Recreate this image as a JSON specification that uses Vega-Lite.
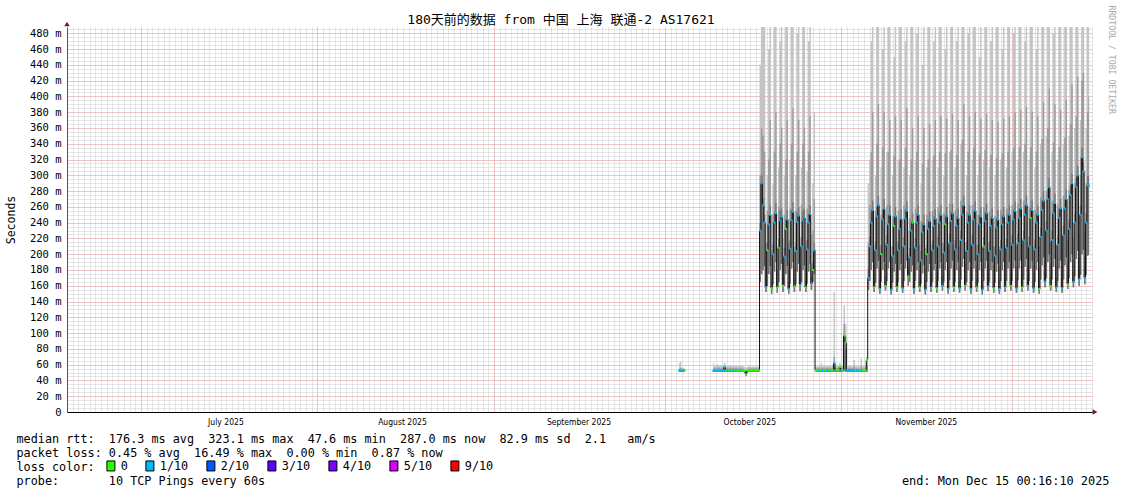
{
"$schema":"https://vega.github.io/schema/vega-lite/v6.json",
"width":1025,"height":385,
"autosize":{"type":"none"},
"padding":{"left":67,"top":27,"right":29,"bottom":82},
"background":"white",
"config":{"view":{"stroke":null},"axis":{"labelFont":"DejaVu Sans Mono","titleFont":"DejaVu Sans Mono","titleFontWeight":"normal","labelColor":"#000","titleColor":"#000"}},
"data":{"values":[
{"t":"2025-10-03T12:00Z","s":1,"lo":51,"dk":52,"mi":55,"hi":62,"md":52.5,"l":"1/10"},
{"t":"2025-10-03T18:00Z","s":1,"lo":51,"dk":52,"mi":56,"hi":64,"md":52.5,"l":"1/10"},
{"t":"2025-10-04T00:00Z","s":1,"lo":51,"dk":52,"mi":54,"hi":56,"md":52.8,"l":"1/10"},
{"t":"2025-10-04T06:00Z","s":1,"lo":51,"dk":52,"mi":54,"hi":56,"md":53,"l":"1/10"},
{"t":"2025-10-04T12:00Z","s":1,"lo":51,"dk":52,"mi":54,"hi":55,"md":53,"l":"0"},
{"t":"2025-10-09T12:00Z","s":2,"lo":51,"dk":52,"mi":56,"hi":63,"md":52.5,"l":"1/10"},
{"t":"2025-10-09T18:00Z","s":2,"lo":51,"dk":52,"mi":56,"hi":59,"md":52.5,"l":"1/10"},
{"t":"2025-10-10T00:00Z","s":2,"lo":51,"dk":52,"mi":55,"hi":58,"md":52.5,"l":"1/10"},
{"t":"2025-10-10T06:00Z","s":2,"lo":51,"dk":52,"mi":56,"hi":61,"md":52.5,"l":"1/10"},
{"t":"2025-10-10T12:00Z","s":2,"lo":51,"dk":52,"mi":56,"hi":59,"md":52.5,"l":"1/10"},
{"t":"2025-10-10T18:00Z","s":2,"lo":51,"dk":52,"mi":55,"hi":58,"md":52.5,"l":"1/10"},
{"t":"2025-10-11T00:00Z","s":2,"lo":51,"dk":52,"mi":56,"hi":59,"md":53,"l":"1/10"},
{"t":"2025-10-11T06:00Z","s":2,"lo":51,"dk":52,"mi":56,"hi":60,"md":53,"l":"1/10"},
{"t":"2025-10-11T12:00Z","s":2,"lo":51,"dk":54,"mi":58,"hi":62,"md":57,"l":"1/10"},
{"t":"2025-10-11T18:00Z","s":2,"lo":51,"dk":52,"mi":55,"hi":58,"md":53,"l":"0"},
{"t":"2025-10-12T00:00Z","s":2,"lo":51,"dk":52,"mi":56,"hi":59,"md":53,"l":"1/10"},
{"t":"2025-10-12T06:00Z","s":2,"lo":51,"dk":52,"mi":55,"hi":58,"md":53,"l":"0"},
{"t":"2025-10-12T12:00Z","s":2,"lo":51,"dk":52,"mi":56,"hi":59,"md":53,"l":"1/10"},
{"t":"2025-10-12T18:00Z","s":2,"lo":51,"dk":52,"mi":55,"hi":58,"md":53,"l":"0"},
{"t":"2025-10-13T00:00Z","s":2,"lo":51,"dk":52,"mi":56,"hi":59,"md":53,"l":"1/10"},
{"t":"2025-10-13T06:00Z","s":2,"lo":51,"dk":52,"mi":55,"hi":58,"md":53,"l":"0"},
{"t":"2025-10-13T12:00Z","s":2,"lo":51,"dk":52,"mi":56,"hi":59,"md":53,"l":"1/10"},
{"t":"2025-10-13T18:00Z","s":2,"lo":51,"dk":52,"mi":55,"hi":58,"md":53,"l":"0"},
{"t":"2025-10-14T00:00Z","s":2,"lo":51,"dk":52,"mi":55,"hi":58,"md":53,"l":"0"},
{"t":"2025-10-14T06:00Z","s":2,"lo":51,"dk":52,"mi":56,"hi":59,"md":53,"l":"1/10"},
{"t":"2025-10-14T12:00Z","s":2,"lo":51,"dk":52,"mi":55,"hi":58,"md":53,"l":"0"},
{"t":"2025-10-14T18:00Z","s":2,"lo":51,"dk":52,"mi":55,"hi":58,"md":53,"l":"0"},
{"t":"2025-10-15T00:00Z","s":2,"lo":50,"dk":51,"mi":54,"hi":57,"md":52,"l":"0"},
{"t":"2025-10-15T06:00Z","s":2,"lo":46,"dk":47,"mi":51,"hi":56,"md":47.6,"l":"0"},
{"t":"2025-10-15T12:00Z","s":2,"lo":50,"dk":51,"mi":54,"hi":57,"md":52.5,"l":"0"},
{"t":"2025-10-15T18:00Z","s":2,"lo":51,"dk":52,"mi":55,"hi":58,"md":53,"l":"0"},
{"t":"2025-10-16T00:00Z","s":2,"lo":51,"dk":52,"mi":55,"hi":58,"md":53,"l":"0"},
{"t":"2025-10-16T06:00Z","s":2,"lo":51,"dk":52,"mi":55,"hi":57,"md":53,"l":"0"},
{"t":"2025-10-16T12:00Z","s":2,"lo":51,"dk":52,"mi":55,"hi":58,"md":53,"l":"0"},
{"t":"2025-10-16T18:00Z","s":2,"lo":51,"dk":52,"mi":55,"hi":57,"md":53,"l":"0"},
{"t":"2025-10-17T00:00Z","s":2,"lo":51,"dk":52,"mi":55,"hi":58,"md":53,"l":"0"},
{"t":"2025-10-17T06:00Z","s":2,"lo":51,"dk":52,"mi":55,"hi":57,"md":53,"l":"0"},
{"t":"2025-10-17T12:00Z","s":2,"lo":51,"dk":52,"mi":55,"hi":58,"md":53,"l":"0"},
{"t":"2025-10-17T18:00Z","s":2,"lo":165,"dk":240,"mi":300,"hi":440,"md":230,"l":"1/10"},
{"t":"2025-10-18T00:00Z","s":2,"lo":175,"dk":300,"mi":360,"hi":488,"md":290,"l":"1/10"},
{"t":"2025-10-18T06:00Z","s":2,"lo":180,"dk":272,"mi":350,"hi":488,"md":262,"l":"1/10"},
{"t":"2025-10-18T12:00Z","s":2,"lo":185,"dk":250,"mi":330,"hi":488,"md":240,"l":"1/10"},
{"t":"2025-10-18T18:00Z","s":2,"lo":152,"dk":170,"mi":185,"hi":215,"md":158,"l":"1/10"},
{"t":"2025-10-19T00:00Z","s":2,"lo":160,"dk":215,"mi":255,"hi":300,"md":205,"l":"0"},
{"t":"2025-10-19T06:00Z","s":2,"lo":175,"dk":250,"mi":320,"hi":460,"md":238,"l":"1/10"},
{"t":"2025-10-19T12:00Z","s":2,"lo":185,"dk":262,"mi":370,"hi":488,"md":250,"l":"1/10"},
{"t":"2025-10-19T18:00Z","s":2,"lo":150,"dk":165,"mi":178,"hi":205,"md":157,"l":"0"},
{"t":"2025-10-20T00:00Z","s":2,"lo":162,"dk":212,"mi":250,"hi":290,"md":200,"l":"1/10"},
{"t":"2025-10-20T06:00Z","s":2,"lo":178,"dk":252,"mi":330,"hi":488,"md":240,"l":"1/10"},
{"t":"2025-10-20T12:00Z","s":2,"lo":190,"dk":265,"mi":380,"hi":488,"md":252,"l":"1/10"},
{"t":"2025-10-20T18:00Z","s":2,"lo":151,"dk":166,"mi":180,"hi":210,"md":158,"l":"0"},
{"t":"2025-10-21T00:00Z","s":2,"lo":165,"dk":220,"mi":260,"hi":310,"md":208,"l":"0"},
{"t":"2025-10-21T06:00Z","s":2,"lo":180,"dk":255,"mi":340,"hi":470,"md":243,"l":"1/10"},
{"t":"2025-10-21T12:00Z","s":2,"lo":188,"dk":258,"mi":360,"hi":488,"md":247,"l":"1/10"},
{"t":"2025-10-21T18:00Z","s":2,"lo":152,"dk":170,"mi":185,"hi":220,"md":160,"l":"0"},
{"t":"2025-10-22T00:00Z","s":2,"lo":160,"dk":208,"mi":250,"hi":300,"md":197,"l":"1/10"},
{"t":"2025-10-22T06:00Z","s":2,"lo":175,"dk":245,"mi":320,"hi":488,"md":232,"l":"0"},
{"t":"2025-10-22T12:00Z","s":2,"lo":185,"dk":256,"mi":370,"hi":488,"md":244,"l":"1/10"},
{"t":"2025-10-22T18:00Z","s":2,"lo":150,"dk":165,"mi":180,"hi":215,"md":156,"l":"1/10"},
{"t":"2025-10-23T00:00Z","s":2,"lo":163,"dk":218,"mi":258,"hi":320,"md":207,"l":"1/10"},
{"t":"2025-10-23T06:00Z","s":2,"lo":182,"dk":256,"mi":340,"hi":488,"md":243,"l":"1/10"},
{"t":"2025-10-23T12:00Z","s":2,"lo":190,"dk":266,"mi":385,"hi":488,"md":254,"l":"1/10"},
{"t":"2025-10-23T18:00Z","s":2,"lo":152,"dk":168,"mi":182,"hi":210,"md":159,"l":"0"},
{"t":"2025-10-24T00:00Z","s":2,"lo":162,"dk":215,"mi":255,"hi":300,"md":204,"l":"1/10"},
{"t":"2025-10-24T06:00Z","s":2,"lo":178,"dk":253,"mi":330,"hi":480,"md":241,"l":"1/10"},
{"t":"2025-10-24T12:00Z","s":2,"lo":188,"dk":260,"mi":370,"hi":488,"md":249,"l":"1/10"},
{"t":"2025-10-24T18:00Z","s":2,"lo":153,"dk":170,"mi":185,"hi":220,"md":161,"l":"1/10"},
{"t":"2025-10-25T00:00Z","s":2,"lo":165,"dk":222,"mi":262,"hi":310,"md":210,"l":"1/10"},
{"t":"2025-10-25T06:00Z","s":2,"lo":180,"dk":255,"mi":340,"hi":488,"md":243,"l":"1/10"},
{"t":"2025-10-25T12:00Z","s":2,"lo":186,"dk":258,"mi":360,"hi":488,"md":246,"l":"1/10"},
{"t":"2025-10-25T18:00Z","s":2,"lo":152,"dk":168,"mi":182,"hi":215,"md":158,"l":"0"},
{"t":"2025-10-26T00:00Z","s":2,"lo":163,"dk":218,"mi":258,"hi":305,"md":206,"l":"1/10"},
{"t":"2025-10-26T06:00Z","s":2,"lo":178,"dk":252,"mi":330,"hi":470,"md":240,"l":"1/10"},
{"t":"2025-10-26T12:00Z","s":2,"lo":188,"dk":262,"mi":375,"hi":488,"md":251,"l":"1/10"},
{"t":"2025-10-26T18:00Z","s":2,"lo":155,"dk":172,"mi":188,"hi":225,"md":163,"l":"1/10"},
{"t":"2025-10-27T00:00Z","s":2,"lo":165,"dk":190,"mi":230,"hi":290,"md":180,"l":"0"},
{"t":"2025-10-27T06:00Z","s":2,"lo":175,"dk":215,"mi":270,"hi":380,"md":205,"l":"1/10"},
{"t":"2025-10-27T12:00Z","s":2,"lo":51,"dk":52,"mi":55,"hi":58,"md":53,"l":"0"},
{"t":"2025-10-27T18:00Z","s":2,"lo":51,"dk":52,"mi":55,"hi":57,"md":53,"l":"0"},
{"t":"2025-10-28T00:00Z","s":2,"lo":51,"dk":52,"mi":56,"hi":59,"md":53,"l":"1/10"},
{"t":"2025-10-28T06:00Z","s":2,"lo":51,"dk":52,"mi":55,"hi":58,"md":53,"l":"0"},
{"t":"2025-10-28T12:00Z","s":2,"lo":51,"dk":52,"mi":56,"hi":62,"md":53,"l":"0"},
{"t":"2025-10-28T18:00Z","s":2,"lo":51,"dk":52,"mi":55,"hi":58,"md":53,"l":"1/10"},
{"t":"2025-10-29T00:00Z","s":2,"lo":51,"dk":52,"mi":56,"hi":59,"md":53,"l":"0"},
{"t":"2025-10-29T06:00Z","s":2,"lo":51,"dk":52,"mi":55,"hi":58,"md":53,"l":"0"},
{"t":"2025-10-29T12:00Z","s":2,"lo":51,"dk":52,"mi":56,"hi":59,"md":53,"l":"1/10"},
{"t":"2025-10-29T18:00Z","s":2,"lo":51,"dk":52,"mi":55,"hi":58,"md":53,"l":"0"},
{"t":"2025-10-30T00:00Z","s":2,"lo":51,"dk":52,"mi":56,"hi":59,"md":53,"l":"1/10"},
{"t":"2025-10-30T06:00Z","s":2,"lo":51,"dk":52,"mi":55,"hi":58,"md":53,"l":"0"},
{"t":"2025-10-30T12:00Z","s":2,"lo":51,"dk":52,"mi":56,"hi":60,"md":53,"l":"0"},
{"t":"2025-10-30T18:00Z","s":2,"lo":51,"dk":56,"mi":70,"hi":152,"md":62,"l":"1/10"},
{"t":"2025-10-31T00:00Z","s":2,"lo":51,"dk":52,"mi":56,"hi":59,"md":53,"l":"1/10"},
{"t":"2025-10-31T06:00Z","s":2,"lo":51,"dk":52,"mi":55,"hi":58,"md":53,"l":"0"},
{"t":"2025-10-31T12:00Z","s":2,"lo":51,"dk":52,"mi":56,"hi":59,"md":54,"l":"0"},
{"t":"2025-10-31T18:00Z","s":2,"lo":51,"dk":54,"mi":58,"hi":62,"md":57,"l":"0"},
{"t":"2025-11-01T00:00Z","s":2,"lo":51,"dk":52,"mi":56,"hi":59,"md":53,"l":"1/10"},
{"t":"2025-11-01T06:00Z","s":2,"lo":51,"dk":52,"mi":56,"hi":60,"md":53,"l":"0"},
{"t":"2025-11-01T12:00Z","s":2,"lo":52,"dk":90,"mi":112,"hi":135,"md":97,"l":"0"},
{"t":"2025-11-01T18:00Z","s":2,"lo":51,"dk":80,"mi":95,"hi":112,"md":88,"l":"0"},
{"t":"2025-11-02T00:00Z","s":2,"lo":51,"dk":52,"mi":55,"hi":58,"md":53,"l":"1/10"},
{"t":"2025-11-02T06:00Z","s":2,"lo":51,"dk":52,"mi":55,"hi":58,"md":53,"l":"1/10"},
{"t":"2025-11-02T12:00Z","s":2,"lo":51,"dk":52,"mi":56,"hi":59,"md":53,"l":"1/10"},
{"t":"2025-11-02T18:00Z","s":2,"lo":51,"dk":52,"mi":55,"hi":58,"md":53,"l":"1/10"},
{"t":"2025-11-03T00:00Z","s":2,"lo":51,"dk":52,"mi":55,"hi":58,"md":53,"l":"1/10"},
{"t":"2025-11-03T06:00Z","s":2,"lo":51,"dk":52,"mi":58,"hi":66,"md":53,"l":"1/10"},
{"t":"2025-11-03T12:00Z","s":2,"lo":51,"dk":52,"mi":55,"hi":58,"md":53,"l":"0"},
{"t":"2025-11-03T18:00Z","s":2,"lo":51,"dk":52,"mi":55,"hi":58,"md":53,"l":"1/10"},
{"t":"2025-11-04T00:00Z","s":2,"lo":51,"dk":52,"mi":55,"hi":58,"md":53,"l":"1/10"},
{"t":"2025-11-04T06:00Z","s":2,"lo":51,"dk":52,"mi":55,"hi":58,"md":53,"l":"0"},
{"t":"2025-11-04T12:00Z","s":2,"lo":51,"dk":52,"mi":58,"hi":68,"md":53,"l":"1/10"},
{"t":"2025-11-04T18:00Z","s":2,"lo":51,"dk":52,"mi":55,"hi":58,"md":53,"l":"0"},
{"t":"2025-11-05T00:00Z","s":2,"lo":51,"dk":52,"mi":55,"hi":58,"md":53,"l":"0"},
{"t":"2025-11-05T06:00Z","s":2,"lo":51,"dk":52,"mi":56,"hi":59,"md":53,"l":"0"},
{"t":"2025-11-05T12:00Z","s":2,"lo":51,"dk":58,"mi":64,"hi":70,"md":66,"l":"0"},
{"t":"2025-11-05T18:00Z","s":2,"lo":155,"dk":182,"mi":215,"hi":290,"md":170,"l":"1/10"},
{"t":"2025-11-06T00:00Z","s":2,"lo":166,"dk":222,"mi":262,"hi":320,"md":210,"l":"1/10"},
{"t":"2025-11-06T06:00Z","s":2,"lo":180,"dk":252,"mi":330,"hi":470,"md":240,"l":"1/10"},
{"t":"2025-11-06T12:00Z","s":2,"lo":190,"dk":268,"mi":380,"hi":488,"md":256,"l":"1/10"},
{"t":"2025-11-06T18:00Z","s":2,"lo":152,"dk":170,"mi":186,"hi":212,"md":158,"l":"0"},
{"t":"2025-11-07T00:00Z","s":2,"lo":164,"dk":217,"mi":255,"hi":300,"md":205,"l":"1/10"},
{"t":"2025-11-07T06:00Z","s":2,"lo":182,"dk":260,"mi":340,"hi":488,"md":248,"l":"1/10"},
{"t":"2025-11-07T12:00Z","s":2,"lo":192,"dk":274,"mi":390,"hi":488,"md":262,"l":"1/10"},
{"t":"2025-11-07T18:00Z","s":2,"lo":150,"dk":168,"mi":184,"hi":210,"md":156,"l":"1/10"},
{"t":"2025-11-08T00:00Z","s":2,"lo":165,"dk":212,"mi":250,"hi":310,"md":200,"l":"0"},
{"t":"2025-11-08T06:00Z","s":2,"lo":180,"dk":256,"mi":335,"hi":460,"md":244,"l":"1/10"},
{"t":"2025-11-08T12:00Z","s":2,"lo":190,"dk":270,"mi":380,"hi":488,"md":258,"l":"1/10"},
{"t":"2025-11-08T18:00Z","s":2,"lo":154,"dk":172,"mi":188,"hi":215,"md":160,"l":"0"},
{"t":"2025-11-09T00:00Z","s":2,"lo":166,"dk":224,"mi":262,"hi":330,"md":212,"l":"1/10"},
{"t":"2025-11-09T06:00Z","s":2,"lo":182,"dk":250,"mi":330,"hi":488,"md":238,"l":"1/10"},
{"t":"2025-11-09T12:00Z","s":2,"lo":190,"dk":262,"mi":370,"hi":488,"md":250,"l":"1/10"},
{"t":"2025-11-09T18:00Z","s":2,"lo":149,"dk":167,"mi":183,"hi":210,"md":155,"l":"1/10"},
{"t":"2025-11-10T00:00Z","s":2,"lo":164,"dk":210,"mi":248,"hi":300,"md":198,"l":"1/10"},
{"t":"2025-11-10T06:00Z","s":2,"lo":178,"dk":248,"mi":325,"hi":450,"md":236,"l":"0"},
{"t":"2025-11-10T12:00Z","s":2,"lo":188,"dk":260,"mi":375,"hi":488,"md":248,"l":"1/10"},
{"t":"2025-11-10T18:00Z","s":2,"lo":152,"dk":170,"mi":186,"hi":212,"md":158,"l":"0"},
{"t":"2025-11-11T00:00Z","s":2,"lo":165,"dk":217,"mi":255,"hi":320,"md":205,"l":"1/10"},
{"t":"2025-11-11T06:00Z","s":2,"lo":180,"dk":244,"mi":320,"hi":488,"md":232,"l":"1/10"},
{"t":"2025-11-11T12:00Z","s":2,"lo":188,"dk":257,"mi":370,"hi":488,"md":245,"l":"1/10"},
{"t":"2025-11-11T18:00Z","s":2,"lo":151,"dk":169,"mi":185,"hi":210,"md":157,"l":"1/10"},
{"t":"2025-11-12T00:00Z","s":2,"lo":166,"dk":222,"mi":262,"hi":310,"md":210,"l":"1/10"},
{"t":"2025-11-12T06:00Z","s":2,"lo":182,"dk":257,"mi":335,"hi":470,"md":245,"l":"1/10"},
{"t":"2025-11-12T12:00Z","s":2,"lo":192,"dk":267,"mi":385,"hi":488,"md":255,"l":"1/10"},
{"t":"2025-11-12T18:00Z","s":2,"lo":160,"dk":184,"mi":200,"hi":230,"md":172,"l":"0"},
{"t":"2025-11-13T00:00Z","s":2,"lo":165,"dk":208,"mi":246,"hi":300,"md":196,"l":"1/10"},
{"t":"2025-11-13T06:00Z","s":2,"lo":178,"dk":242,"mi":320,"hi":488,"md":230,"l":"1/10"},
{"t":"2025-11-13T12:00Z","s":2,"lo":186,"dk":252,"mi":360,"hi":488,"md":240,"l":"0"},
{"t":"2025-11-13T18:00Z","s":2,"lo":150,"dk":168,"mi":184,"hi":210,"md":156,"l":"1/10"},
{"t":"2025-11-14T00:00Z","s":2,"lo":166,"dk":220,"mi":258,"hi":320,"md":208,"l":"1/10"},
{"t":"2025-11-14T06:00Z","s":2,"lo":180,"dk":252,"mi":330,"hi":480,"md":240,"l":"1/10"},
{"t":"2025-11-14T12:00Z","s":2,"lo":190,"dk":262,"mi":375,"hi":488,"md":250,"l":"1/10"},
{"t":"2025-11-14T18:00Z","s":2,"lo":152,"dk":170,"mi":186,"hi":212,"md":158,"l":"0"},
{"t":"2025-11-15T00:00Z","s":2,"lo":163,"dk":204,"mi":242,"hi":290,"md":192,"l":"1/10"},
{"t":"2025-11-15T06:00Z","s":2,"lo":176,"dk":240,"mi":315,"hi":440,"md":228,"l":"1/10"},
{"t":"2025-11-15T12:00Z","s":2,"lo":186,"dk":250,"mi":360,"hi":488,"md":238,"l":"1/10"},
{"t":"2025-11-15T18:00Z","s":2,"lo":149,"dk":167,"mi":183,"hi":208,"md":155,"l":"1/10"},
{"t":"2025-11-16T00:00Z","s":2,"lo":165,"dk":212,"mi":250,"hi":310,"md":200,"l":"0"},
{"t":"2025-11-16T06:00Z","s":2,"lo":178,"dk":244,"mi":320,"hi":488,"md":232,"l":"1/10"},
{"t":"2025-11-16T12:00Z","s":2,"lo":188,"dk":254,"mi":365,"hi":488,"md":242,"l":"1/10"},
{"t":"2025-11-16T18:00Z","s":2,"lo":152,"dk":170,"mi":186,"hi":212,"md":158,"l":"1/10"},
{"t":"2025-11-17T00:00Z","s":2,"lo":165,"dk":217,"mi":255,"hi":320,"md":205,"l":"1/10"},
{"t":"2025-11-17T06:00Z","s":2,"lo":180,"dk":248,"mi":325,"hi":470,"md":236,"l":"1/10"},
{"t":"2025-11-17T12:00Z","s":2,"lo":188,"dk":257,"mi":370,"hi":488,"md":245,"l":"1/10"},
{"t":"2025-11-17T18:00Z","s":2,"lo":151,"dk":169,"mi":185,"hi":210,"md":157,"l":"0"},
{"t":"2025-11-18T00:00Z","s":2,"lo":166,"dk":222,"mi":260,"hi":310,"md":210,"l":"1/10"},
{"t":"2025-11-18T06:00Z","s":2,"lo":182,"dk":252,"mi":330,"hi":488,"md":240,"l":"1/10"},
{"t":"2025-11-18T12:00Z","s":2,"lo":190,"dk":262,"mi":375,"hi":488,"md":250,"l":"1/10"},
{"t":"2025-11-18T18:00Z","s":2,"lo":154,"dk":172,"mi":188,"hi":215,"md":160,"l":"1/10"},
{"t":"2025-11-19T00:00Z","s":2,"lo":165,"dk":214,"mi":252,"hi":300,"md":202,"l":"1/10"},
{"t":"2025-11-19T06:00Z","s":2,"lo":180,"dk":250,"mi":328,"hi":460,"md":238,"l":"0"},
{"t":"2025-11-19T12:00Z","s":2,"lo":190,"dk":260,"mi":372,"hi":488,"md":248,"l":"1/10"},
{"t":"2025-11-19T18:00Z","s":2,"lo":150,"dk":168,"mi":184,"hi":210,"md":156,"l":"1/10"},
{"t":"2025-11-20T00:00Z","s":2,"lo":167,"dk":226,"mi":264,"hi":330,"md":214,"l":"1/10"},
{"t":"2025-11-20T06:00Z","s":2,"lo":182,"dk":254,"mi":332,"hi":488,"md":242,"l":"1/10"},
{"t":"2025-11-20T12:00Z","s":2,"lo":192,"dk":264,"mi":378,"hi":488,"md":252,"l":"1/10"},
{"t":"2025-11-20T18:00Z","s":2,"lo":152,"dk":170,"mi":186,"hi":212,"md":158,"l":"0"},
{"t":"2025-11-21T00:00Z","s":2,"lo":165,"dk":218,"mi":256,"hi":310,"md":206,"l":"1/10"},
{"t":"2025-11-21T06:00Z","s":2,"lo":180,"dk":248,"mi":326,"hi":470,"md":236,"l":"1/10"},
{"t":"2025-11-21T12:00Z","s":2,"lo":190,"dk":258,"mi":370,"hi":488,"md":246,"l":"1/10"},
{"t":"2025-11-21T18:00Z","s":2,"lo":151,"dk":169,"mi":185,"hi":210,"md":157,"l":"1/10"},
{"t":"2025-11-22T00:00Z","s":2,"lo":168,"dk":230,"mi":268,"hi":340,"md":218,"l":"1/10"},
{"t":"2025-11-22T06:00Z","s":2,"lo":184,"dk":262,"mi":345,"hi":488,"md":250,"l":"1/10"},
{"t":"2025-11-22T12:00Z","s":2,"lo":194,"dk":274,"mi":390,"hi":488,"md":262,"l":"1/10"},
{"t":"2025-11-22T18:00Z","s":2,"lo":154,"dk":172,"mi":188,"hi":215,"md":160,"l":"0"},
{"t":"2025-11-23T00:00Z","s":2,"lo":165,"dk":216,"mi":254,"hi":300,"md":204,"l":"1/10"},
{"t":"2025-11-23T06:00Z","s":2,"lo":180,"dk":252,"mi":330,"hi":480,"md":240,"l":"1/10"},
{"t":"2025-11-23T12:00Z","s":2,"lo":190,"dk":262,"mi":375,"hi":488,"md":250,"l":"1/10"},
{"t":"2025-11-23T18:00Z","s":2,"lo":150,"dk":168,"mi":184,"hi":210,"md":156,"l":"1/10"},
{"t":"2025-11-24T00:00Z","s":2,"lo":166,"dk":224,"mi":262,"hi":320,"md":212,"l":"1/10"},
{"t":"2025-11-24T06:00Z","s":2,"lo":182,"dk":256,"mi":335,"hi":488,"md":244,"l":"1/10"},
{"t":"2025-11-24T12:00Z","s":2,"lo":192,"dk":267,"mi":380,"hi":488,"md":255,"l":"1/10"},
{"t":"2025-11-24T18:00Z","s":2,"lo":152,"dk":170,"mi":186,"hi":212,"md":158,"l":"0"},
{"t":"2025-11-25T00:00Z","s":2,"lo":164,"dk":212,"mi":250,"hi":300,"md":200,"l":"1/10"},
{"t":"2025-11-25T06:00Z","s":2,"lo":180,"dk":250,"mi":328,"hi":450,"md":238,"l":"1/10"},
{"t":"2025-11-25T12:00Z","s":2,"lo":190,"dk":260,"mi":372,"hi":488,"md":248,"l":"1/10"},
{"t":"2025-11-25T18:00Z","s":2,"lo":149,"dk":167,"mi":183,"hi":208,"md":155,"l":"1/10"},
{"t":"2025-11-26T00:00Z","s":2,"lo":166,"dk":222,"mi":260,"hi":320,"md":210,"l":"0"},
{"t":"2025-11-26T06:00Z","s":2,"lo":182,"dk":254,"mi":332,"hi":488,"md":242,"l":"1/10"},
{"t":"2025-11-26T12:00Z","s":2,"lo":192,"dk":264,"mi":378,"hi":488,"md":252,"l":"1/10"},
{"t":"2025-11-26T18:00Z","s":2,"lo":153,"dk":171,"mi":187,"hi":214,"md":159,"l":"1/10"},
{"t":"2025-11-27T00:00Z","s":2,"lo":165,"dk":216,"mi":254,"hi":310,"md":204,"l":"1/10"},
{"t":"2025-11-27T06:00Z","s":2,"lo":180,"dk":248,"mi":326,"hi":470,"md":236,"l":"1/10"},
{"t":"2025-11-27T12:00Z","s":2,"lo":190,"dk":258,"mi":370,"hi":488,"md":246,"l":"1/10"},
{"t":"2025-11-27T18:00Z","s":2,"lo":151,"dk":169,"mi":185,"hi":210,"md":157,"l":"0"},
{"t":"2025-11-28T00:00Z","s":2,"lo":164,"dk":210,"mi":248,"hi":300,"md":198,"l":"1/10"},
{"t":"2025-11-28T06:00Z","s":2,"lo":178,"dk":246,"mi":322,"hi":488,"md":234,"l":"1/10"},
{"t":"2025-11-28T12:00Z","s":2,"lo":188,"dk":256,"mi":368,"hi":488,"md":244,"l":"1/10"},
{"t":"2025-11-28T18:00Z","s":2,"lo":150,"dk":168,"mi":184,"hi":210,"md":156,"l":"1/10"},
{"t":"2025-11-29T00:00Z","s":2,"lo":166,"dk":218,"mi":256,"hi":320,"md":206,"l":"1/10"},
{"t":"2025-11-29T06:00Z","s":2,"lo":180,"dk":250,"mi":328,"hi":460,"md":238,"l":"1/10"},
{"t":"2025-11-29T12:00Z","s":2,"lo":190,"dk":260,"mi":372,"hi":488,"md":248,"l":"1/10"},
{"t":"2025-11-29T18:00Z","s":2,"lo":152,"dk":170,"mi":186,"hi":212,"md":158,"l":"1/10"},
{"t":"2025-11-30T00:00Z","s":2,"lo":166,"dk":220,"mi":258,"hi":310,"md":208,"l":"1/10"},
{"t":"2025-11-30T06:00Z","s":2,"lo":182,"dk":252,"mi":330,"hi":488,"md":240,"l":"1/10"},
{"t":"2025-11-30T12:00Z","s":2,"lo":190,"dk":262,"mi":375,"hi":488,"md":250,"l":"1/10"},
{"t":"2025-11-30T18:00Z","s":2,"lo":154,"dk":172,"mi":188,"hi":215,"md":160,"l":"0"},
{"t":"2025-12-01T00:00Z","s":2,"lo":166,"dk":224,"mi":262,"hi":330,"md":212,"l":"1/10"},
{"t":"2025-12-01T06:00Z","s":2,"lo":182,"dk":256,"mi":335,"hi":480,"md":244,"l":"1/10"},
{"t":"2025-12-01T12:00Z","s":2,"lo":192,"dk":267,"mi":380,"hi":488,"md":255,"l":"1/10"},
{"t":"2025-12-01T18:00Z","s":2,"lo":151,"dk":169,"mi":185,"hi":210,"md":157,"l":"1/10"},
{"t":"2025-12-02T00:00Z","s":2,"lo":167,"dk":226,"mi":264,"hi":320,"md":214,"l":"1/10"},
{"t":"2025-12-02T06:00Z","s":2,"lo":182,"dk":258,"mi":336,"hi":488,"md":246,"l":"1/10"},
{"t":"2025-12-02T12:00Z","s":2,"lo":192,"dk":270,"mi":383,"hi":488,"md":258,"l":"1/10"},
{"t":"2025-12-02T18:00Z","s":2,"lo":152,"dk":170,"mi":186,"hi":212,"md":158,"l":"0"},
{"t":"2025-12-03T00:00Z","s":2,"lo":168,"dk":230,"mi":268,"hi":330,"md":218,"l":"1/10"},
{"t":"2025-12-03T06:00Z","s":2,"lo":184,"dk":262,"mi":340,"hi":470,"md":250,"l":"1/10"},
{"t":"2025-12-03T12:00Z","s":2,"lo":194,"dk":274,"mi":387,"hi":488,"md":262,"l":"1/10"},
{"t":"2025-12-03T18:00Z","s":2,"lo":154,"dk":172,"mi":188,"hi":215,"md":160,"l":"1/10"},
{"t":"2025-12-04T00:00Z","s":2,"lo":166,"dk":222,"mi":260,"hi":320,"md":210,"l":"1/10"},
{"t":"2025-12-04T06:00Z","s":2,"lo":182,"dk":258,"mi":336,"hi":488,"md":246,"l":"0"},
{"t":"2025-12-04T12:00Z","s":2,"lo":192,"dk":268,"mi":381,"hi":488,"md":256,"l":"1/10"},
{"t":"2025-12-04T18:00Z","s":2,"lo":151,"dk":169,"mi":185,"hi":210,"md":157,"l":"1/10"},
{"t":"2025-12-05T00:00Z","s":2,"lo":165,"dk":218,"mi":256,"hi":310,"md":206,"l":"1/10"},
{"t":"2025-12-05T06:00Z","s":2,"lo":180,"dk":252,"mi":330,"hi":460,"md":240,"l":"1/10"},
{"t":"2025-12-05T12:00Z","s":2,"lo":190,"dk":262,"mi":375,"hi":488,"md":250,"l":"1/10"},
{"t":"2025-12-05T18:00Z","s":2,"lo":150,"dk":168,"mi":184,"hi":210,"md":156,"l":"0"},
{"t":"2025-12-06T00:00Z","s":2,"lo":168,"dk":234,"mi":272,"hi":340,"md":222,"l":"1/10"},
{"t":"2025-12-06T06:00Z","s":2,"lo":186,"dk":268,"mi":346,"hi":488,"md":256,"l":"1/10"},
{"t":"2025-12-06T12:00Z","s":2,"lo":196,"dk":280,"mi":393,"hi":488,"md":268,"l":"1/10"},
{"t":"2025-12-06T18:00Z","s":2,"lo":158,"dk":177,"mi":193,"hi":222,"md":165,"l":"1/10"},
{"t":"2025-12-07T00:00Z","s":2,"lo":170,"dk":242,"mi":280,"hi":350,"md":230,"l":"1/10"},
{"t":"2025-12-07T06:00Z","s":2,"lo":190,"dk":282,"mi":360,"hi":488,"md":270,"l":"1/10"},
{"t":"2025-12-07T12:00Z","s":2,"lo":200,"dk":297,"mi":410,"hi":488,"md":285,"l":"1/10"},
{"t":"2025-12-07T18:00Z","s":2,"lo":154,"dk":172,"mi":188,"hi":215,"md":160,"l":"0"},
{"t":"2025-12-08T00:00Z","s":2,"lo":168,"dk":230,"mi":268,"hi":330,"md":218,"l":"1/10"},
{"t":"2025-12-08T06:00Z","s":2,"lo":184,"dk":264,"mi":342,"hi":480,"md":252,"l":"1/10"},
{"t":"2025-12-08T12:00Z","s":2,"lo":194,"dk":277,"mi":390,"hi":488,"md":265,"l":"1/10"},
{"t":"2025-12-08T18:00Z","s":2,"lo":152,"dk":170,"mi":186,"hi":212,"md":158,"l":"1/10"},
{"t":"2025-12-09T00:00Z","s":2,"lo":166,"dk":224,"mi":262,"hi":320,"md":212,"l":"1/10"},
{"t":"2025-12-09T06:00Z","s":2,"lo":182,"dk":258,"mi":336,"hi":488,"md":246,"l":"1/10"},
{"t":"2025-12-09T12:00Z","s":2,"lo":192,"dk":270,"mi":383,"hi":488,"md":258,"l":"1/10"},
{"t":"2025-12-09T18:00Z","s":2,"lo":151,"dk":169,"mi":185,"hi":210,"md":157,"l":"1/10"},
{"t":"2025-12-10T00:00Z","s":2,"lo":168,"dk":236,"mi":274,"hi":340,"md":224,"l":"1/10"},
{"t":"2025-12-10T06:00Z","s":2,"lo":186,"dk":270,"mi":348,"hi":488,"md":258,"l":"1/10"},
{"t":"2025-12-10T12:00Z","s":2,"lo":196,"dk":282,"mi":395,"hi":488,"md":270,"l":"1/10"},
{"t":"2025-12-10T18:00Z","s":2,"lo":156,"dk":174,"mi":190,"hi":218,"md":162,"l":"0"},
{"t":"2025-12-11T00:00Z","s":2,"lo":170,"dk":244,"mi":282,"hi":350,"md":232,"l":"1/10"},
{"t":"2025-12-11T06:00Z","s":2,"lo":190,"dk":287,"mi":365,"hi":488,"md":275,"l":"1/10"},
{"t":"2025-12-11T12:00Z","s":2,"lo":200,"dk":302,"mi":415,"hi":488,"md":290,"l":"1/10"},
{"t":"2025-12-11T18:00Z","s":2,"lo":158,"dk":177,"mi":193,"hi":222,"md":165,"l":"1/10"},
{"t":"2025-12-12T00:00Z","s":2,"lo":172,"dk":252,"mi":290,"hi":360,"md":240,"l":"1/10"},
{"t":"2025-12-12T06:00Z","s":2,"lo":194,"dk":297,"mi":375,"hi":488,"md":285,"l":"1/10"},
{"t":"2025-12-12T12:00Z","s":2,"lo":204,"dk":312,"mi":425,"hi":488,"md":300,"l":"1/10"},
{"t":"2025-12-12T18:00Z","s":2,"lo":160,"dk":180,"mi":196,"hi":225,"md":168,"l":"1/10"},
{"t":"2025-12-13T00:00Z","s":2,"lo":174,"dk":262,"mi":300,"hi":370,"md":250,"l":"1/10"},
{"t":"2025-12-13T06:00Z","s":2,"lo":200,"dk":335,"mi":420,"hi":488,"md":323,"l":"1/10"},
{"t":"2025-12-13T12:00Z","s":2,"lo":206,"dk":317,"mi":430,"hi":488,"md":305,"l":"1/10"},
{"t":"2025-12-13T18:00Z","s":2,"lo":162,"dk":182,"mi":198,"hi":228,"md":170,"l":"1/10"},
{"t":"2025-12-14T00:00Z","s":2,"lo":174,"dk":252,"mi":290,"hi":360,"md":240,"l":"1/10"},
{"t":"2025-12-14T06:00Z","s":2,"lo":198,"dk":299,"mi":380,"hi":488,"md":287,"l":"1/10"},
{"t":"2025-12-14T12:00Z","s":2,"lo":200,"dk":299,"mi":400,"hi":488,"md":287,"l":"1/10"}
]},
"layer":[
{"mark":{"type":"area","interpolate":"step","color":"#c4c4c4","clip":true},
 "encoding":{
  "x":{"field":"t","type":"temporal",
   "scale":{"type":"utc","nice":false,"domain":[{"year":2025,"month":6,"date":18,"hours":0,"minutes":16,"seconds":10,"utc":true},{"year":2025,"month":12,"date":15,"hours":0,"minutes":16,"seconds":10,"utc":true}]},
   "axis":{"orient":"bottom","grid":true,"gridColor":"#cdcdcd","gridDash":[1,1],"tickCount":{"interval":"day","step":1},"labels":false,"ticks":false,"domain":false,
     "title":"end: Mon Dec 15 00:16:10 2025","titleFontSize":11.9,"titleAlign":"right","titleBaseline":"alphabetic","titleX":1042,"titleY":72,"titleLimit":2000}},
  "y":{"field":"hi","type":"quantitative","scale":{"domain":[0,488],"nice":false,"zero":true},
   "axis":{"orient":"left","grid":true,"gridColor":"#cdcdcd","gridDash":[1,1],"tickCount":98,"labels":false,"ticks":false,"domain":false,"title":null}},
  "y2":{"field":"lo"},
  "detail":{"field":"s","type":"nominal"}}},
{"mark":{"type":"area","interpolate":"step","color":"#9c9c9c","clip":true},
 "encoding":{
  "x":{"field":"t","type":"temporal",
   "axis":{"orient":"bottom","grid":true,"gridColor":"#f4a0a0","gridDash":[1,1],"labels":false,"ticks":false,"domain":false,"title":null,
    "values":[{"year":2025,"month":7,"date":1,"utc":true},{"year":2025,"month":8,"date":1,"utc":true},{"year":2025,"month":9,"date":1,"utc":true},{"year":2025,"month":10,"date":1,"utc":true},{"year":2025,"month":11,"date":1,"utc":true},{"year":2025,"month":12,"date":1,"utc":true}]}},
  "y":{"field":"mi","type":"quantitative",
   "axis":{"orient":"left","grid":true,"gridColor":"#f4a0a0","gridDash":[1,1],"values":[0,20,40,60,80,100,120,140,160,180,200,220,240,260,280,300,320,340,360,380,400,420,440,460,480],
    "labelExpr":"datum.value == 0 ? '0' : datum.value + ' m'","labelFontSize":10.5,"labelPadding":6,"ticks":false,"domain":true,"domainColor":"#555555",
    "title":"Seconds","titleFontSize":11.5,"titleAngle":270,"titleAlign":"center","titleBaseline":"middle","titleX":-56,"titleY":192.5}},
  "y2":{"field":"lo"},
  "detail":{"field":"s","type":"nominal"}}},
{"mark":{"type":"area","interpolate":"step","color":"#767676","clip":true},
 "encoding":{
  "x":{"field":"t","type":"temporal",
   "axis":{"orient":"bottom","grid":false,"ticks":false,"domain":true,"domainColor":"#000000","labelOverlap":false,"labelFlush":false,
    "values":[{"year":2025,"month":7,"date":15,"hours":20,"utc":true},{"year":2025,"month":8,"date":15,"hours":20,"utc":true},{"year":2025,"month":9,"date":15,"hours":20,"utc":true},{"year":2025,"month":10,"date":15,"hours":20,"utc":true},{"year":2025,"month":11,"date":15,"hours":20,"utc":true}],
    "labelExpr":"utcFormat(datum.value, '%B %Y')","labelFont":"Liberation Sans Narrow, DejaVu Sans Condensed, DejaVu Sans Mono","labelFontSize":8.5,"labelPadding":5,
    "title":["median rtt:\u00a0\u00a0176.3 ms avg\u00a0\u00a0323.1 ms max\u00a0\u00a047.6 ms min\u00a0\u00a0287.0 ms now\u00a0\u00a082.9 ms sd\u00a0\u00a02.1\u00a0\u00a0\u00a0am/s","packet loss:\u00a00.45 % avg\u00a0\u00a016.49 % max\u00a0\u00a00.00 % min\u00a0\u00a00.87 % now","loss color:","probe:\u00a0\u00a0\u00a0\u00a0\u00a0\u00a0\u00a010 TCP Pings every 60s"],
    "titleFontSize":11.8,"titleAnchor":"start","titleAlign":"left","titleBaseline":"alphabetic","titleX":-51,"titleY":30,"titleLineHeight":14,"titleLimit":2000}},
  "y":{"field":"dk","type":"quantitative",
   "axis":{"orient":"right","grid":false,"labels":false,"ticks":false,"domain":false,
    "title":"RRDTOOL / TOBI OETIKER","titleColor":"#aaaaaa","titleFontSize":8.2,"titleAngle":90,"titleAlign":"left","titleBaseline":"middle","titleX":18,"titleY":-22}},
  "y2":{"field":"lo"},
  "detail":{"field":"s","type":"nominal"}}},
{"mark":{"type":"line","interpolate":"step","color":"#111111","strokeWidth":1,"clip":true},
 "encoding":{
  "x":{"field":"t","type":"temporal",
   "axis":{"orient":"top","grid":false,"labels":false,"ticks":false,"domain":false,
    "title":"180天前的数据 from 中国 上海 联通-2 AS17621","titleFont":"DejaVu Sans Mono, Noto Sans CJK SC","titleFontSize":13,"titleAlign":"center","titleBaseline":"alphabetic","titleX":493.5,"titleY":-4,"titleLimit":2000}},
  "y":{"field":"md","type":"quantitative","axis":null},
  "detail":{"field":"s","type":"nominal"}}},
{"mark":{"type":"square","size":4,"opacity":1,"filled":true,"clip":true},
 "encoding":{
  "x":{"field":"t","type":"temporal","axis":null},
  "y":{"field":"md","type":"quantitative","axis":null},
  "color":{"field":"l","type":"nominal",
   "scale":{"domain":["0","1/10","2/10","3/10","4/10","5/10","9/10"],"range":["#26ff00","#00b8ff","#0059ff","#5e00ff","#7e00ff","#dd00ff","#ff0000"]},
   "legend":{"orient":"none","legendX":38,"legendY":433,"direction":"horizontal","title":null,"padding":0,
    "symbolType":"M-0.8,-1L0.8,-1L0.8,1L-0.8,1Z","symbolSize":100,"symbolStrokeColor":"#000000","symbolStrokeWidth":1,"symbolOpacity":1,
    "labelFont":"DejaVu Sans Mono","labelFontSize":11.8,"labelColor":"#000000","labelOffset":4,"columnPadding":15}}}},
{"data":{"values":[{}]},
 "mark":{"type":"point","shape":"triangle-up","filled":true,"color":"#7a1a1a","size":30,"opacity":1,"yOffset":-3},
 "encoding":{
  "x":{"datum":{"year":2025,"month":6,"date":18,"hours":0,"minutes":16,"seconds":10,"utc":true},"type":"temporal","axis":null},
  "y":{"datum":488,"type":"quantitative","axis":null}}},
{"data":{"values":[{}]},
 "mark":{"type":"point","shape":"triangle-right","filled":true,"color":"#7a1a1a","size":30,"opacity":1,"xOffset":3},
 "encoding":{
  "x":{"datum":{"year":2025,"month":12,"date":15,"hours":0,"minutes":16,"seconds":10,"utc":true},"type":"temporal","axis":null},
  "y":{"datum":0,"type":"quantitative","axis":null}}}
],
"resolve":{"axis":{"x":"independent","y":"independent"}}
}
